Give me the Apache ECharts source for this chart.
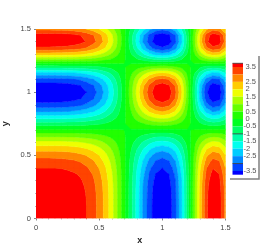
<!DOCTYPE html>
<html><head><meta charset="utf-8">
<style>html,body{margin:0;padding:0;background:#fff}#c{width:277px;height:246px}</style>
<script src="https://cdn.jsdelivr.net/npm/echarts@6/dist/echarts.min.js"></script></head>
<body><div id="c"></div>
<script>
const xValues=[0,.05,.1,.15,.2,.25,.3,.35,.4,.45,.5,.55,.6,.65,.7,.75,.8,.85,.9,.95,1,1.05,1.1,1.15,1.2,1.25,1.3,1.35,1.4,1.45,1.5];
const yValues=xValues.slice();
const zRows=[
[4,4,4,3.99,3.97,3.92,3.84,3.71,3.5,3.22,2.83,2.32,1.7,.96,.12,-.78,-1.7,-2.58,-3.31,-3.81,-4,-3.79,-3.16,-2.11,-.75,.78,2.25,3.41,3.97,3.79,2.83],
[4,4,4,3.99,3.97,3.92,3.84,3.71,3.5,3.22,2.83,2.32,1.7,.96,.12,-.78,-1.7,-2.58,-3.31,-3.81,-4,-3.79,-3.16,-2.11,-.75,.78,2.25,3.41,3.97,3.79,2.83],
[4,4,4,3.99,3.97,3.92,3.84,3.71,3.5,3.22,2.83,2.32,1.7,.96,.12,-.78,-1.7,-2.58,-3.31,-3.81,-4,-3.79,-3.16,-2.11,-.75,.78,2.25,3.41,3.97,3.79,2.83],
[3.99,3.99,3.99,3.98,3.96,3.91,3.83,3.7,3.49,3.21,2.82,2.32,1.7,.96,.12,-.78,-1.7,-2.57,-3.3,-3.8,-3.99,-3.78,-3.15,-2.1,-.75,.78,2.24,3.4,3.96,3.78,2.82],
[3.97,3.97,3.97,3.96,3.94,3.89,3.81,3.68,3.47,3.19,2.81,2.3,1.69,.95,.12,-.77,-1.69,-2.56,-3.28,-3.78,-3.97,-3.76,-3.13,-2.09,-.74,.77,2.23,3.38,3.94,3.76,2.81],
[3.92,3.92,3.92,3.91,3.89,3.85,3.77,3.64,3.43,3.16,2.78,2.28,1.67,.94,.12,-.77,-1.67,-2.53,-3.25,-3.74,-3.92,-3.72,-3.1,-2.07,-.74,.77,2.21,3.35,3.89,3.72,2.78],
[3.84,3.84,3.84,3.83,3.81,3.76,3.69,3.56,3.36,3.09,2.72,2.23,1.63,.92,.12,-.75,-1.63,-2.48,-3.18,-3.66,-3.84,-3.64,-3.03,-2.03,-.72,.75,2.16,3.27,3.81,3.64,2.72],
[3.71,3.71,3.71,3.7,3.68,3.63,3.56,3.44,3.25,2.98,2.62,2.15,1.58,.89,.11,-.72,-1.58,-2.39,-3.07,-3.53,-3.71,-3.51,-2.93,-1.96,-.7,.72,2.09,3.16,3.68,3.51,2.62],
[3.5,3.5,3.5,3.5,3.48,3.43,3.36,3.25,3.07,2.82,2.48,2.03,1.49,.84,.11,-.68,-1.49,-2.26,-2.9,-3.34,-3.5,-3.32,-2.77,-1.85,-.66,.68,1.97,2.99,3.48,3.32,2.48],
[3.22,3.22,3.22,3.21,3.19,3.15,3.09,2.98,2.82,2.59,2.27,1.87,1.37,.77,.1,-.63,-1.37,-2.07,-2.66,-3.06,-3.22,-3.05,-2.54,-1.7,-.6,.63,1.81,2.74,3.19,3.05,2.27],
[2.83,2.83,2.83,2.82,2.81,2.77,2.72,2.62,2.48,2.27,2,1.64,1.2,.68,.08,-.55,-1.2,-1.82,-2.34,-2.69,-2.83,-2.68,-2.23,-1.49,-.53,.55,1.59,2.41,2.81,2.68,2],
[2.32,2.32,2.32,2.32,2.31,2.28,2.23,2.15,2.03,1.87,1.64,1.35,.99,.56,.07,-.45,-.99,-1.5,-1.92,-2.21,-2.32,-2.2,-1.84,-1.22,-.44,.45,1.31,1.98,2.31,2.2,1.64],
[1.7,1.7,1.7,1.7,1.69,1.67,1.63,1.58,1.49,1.37,1.2,.99,.73,.41,.05,-.33,-.73,-1.1,-1.41,-1.62,-1.7,-1.61,-1.35,-.9,-.32,.33,.96,1.45,1.69,1.61,1.2],
[.96,.96,.96,.96,.95,.94,.93,.89,.84,.78,.68,.56,.41,.23,.03,-.19,-.41,-.62,-.8,-.92,-.96,-.91,-.76,-.51,-.18,.19,.54,.82,.96,.91,.68],
[.12,.12,.12,.12,.12,.12,.12,.12,.11,.1,.09,.07,.05,.03,0,-.02,-.05,-.08,-.1,-.12,-.12,-.12,-.1,-.07,-.02,.02,.07,.11,.12,.12,.09],
[-.78,-.78,-.78,-.78,-.77,-.76,-.75,-.72,-.68,-.63,-.55,-.45,-.33,-.19,-.02,.15,.33,.5,.65,.74,.78,.74,.62,.41,.15,-.15,-.44,-.66,-.77,-.74,-.55],
[-1.7,-1.7,-1.7,-1.7,-1.69,-1.67,-1.63,-1.58,-1.49,-1.37,-1.2,-.99,-.73,-.41,-.05,.33,.73,1.1,1.41,1.62,1.7,1.61,1.35,.9,.32,-.33,-.96,-1.45,-1.69,-1.61,-1.2],
[-2.58,-2.58,-2.58,-2.57,-2.56,-2.53,-2.47,-2.39,-2.26,-2.07,-1.82,-1.5,-1.1,-.62,-.08,.5,1.1,1.66,2.13,2.45,2.58,2.44,2.03,1.36,.48,-.5,-1.45,-2.2,-2.56,-2.44,-1.82],
[-3.31,-3.31,-3.31,-3.3,-3.28,-3.25,-3.18,-3.07,-2.9,-2.66,-2.34,-1.92,-1.41,-.8,-.1,.65,1.41,2.13,2.74,3.15,3.31,3.14,2.61,1.74,.62,-.65,-1.86,-2.82,-3.28,-3.14,-2.34],
[-3.81,-3.81,-3.81,-3.8,-3.78,-3.74,-3.66,-3.53,-3.34,-3.06,-2.69,-2.21,-1.62,-.92,-.12,.74,1.62,2.45,3.15,3.63,3.81,3.61,3.01,2.01,.71,-.74,-2.14,-3.25,-3.78,-3.61,-2.69],
[-4,-4,-4,-3.99,-3.97,-3.92,-3.84,-3.71,-3.5,-3.22,-2.83,-2.32,-1.7,-.96,-.12,.78,1.7,2.58,3.31,3.81,4,3.79,3.16,2.11,.75,-.78,-2.25,-3.41,-3.97,-3.79,-2.83],
[-3.79,-3.79,-3.79,-3.78,-3.76,-3.72,-3.64,-3.51,-3.32,-3.05,-2.68,-2.2,-1.61,-.91,-.12,.74,1.61,2.44,3.14,3.61,3.79,3.59,3,2,.71,-.74,-2.13,-3.23,-3.76,-3.59,-2.68],
[-3.16,-3.16,-3.16,-3.15,-3.13,-3.1,-3.03,-2.93,-2.77,-2.54,-2.23,-1.84,-1.35,-.76,-.1,.62,1.35,2.03,2.61,3.01,3.16,3,2.5,1.66,.59,-.62,-1.78,-2.69,-3.13,-3,-2.23],
[-2.11,-2.11,-2.11,-2.1,-2.09,-2.07,-2.03,-1.96,-1.85,-1.7,-1.49,-1.22,-.9,-.51,-.07,.41,.9,1.36,1.74,2.01,2.11,2,1.66,1.11,.4,-.41,-1.19,-1.8,-2.09,-2,-1.49],
[-.75,-.75,-.75,-.75,-.74,-.73,-.72,-.7,-.66,-.6,-.53,-.44,-.32,-.18,-.02,.15,.32,.48,.62,.71,.75,.71,.59,.4,.14,-.15,-.42,-.64,-.74,-.71,-.53],
[.78,.78,.78,.78,.77,.76,.75,.72,.68,.63,.55,.45,.33,.19,.02,-.15,-.33,-.5,-.65,-.74,-.78,-.74,-.62,-.41,-.15,.15,.44,.66,.77,.74,.55],
[2.25,2.25,2.25,2.24,2.23,2.2,2.16,2.08,1.97,1.81,1.59,1.3,.96,.54,.07,-.44,-.96,-1.45,-1.86,-2.14,-2.25,-2.13,-1.78,-1.19,-.42,.44,1.26,1.92,2.23,2.13,1.59],
[3.41,3.41,3.41,3.4,3.38,3.34,3.27,3.16,2.98,2.74,2.41,1.98,1.45,.82,.1,-.66,-1.45,-2.2,-2.82,-3.25,-3.41,-3.23,-2.69,-1.8,-.64,.66,1.92,2.91,3.38,3.23,2.41],
[3.97,3.97,3.97,3.96,3.94,3.89,3.81,3.68,3.47,3.19,2.81,2.3,1.69,.95,.12,-.77,-1.69,-2.56,-3.28,-3.78,-3.97,-3.76,-3.13,-2.09,-.74,.77,2.23,3.38,3.91,3.76,2.81],
[3.79,3.79,3.79,3.78,3.76,3.72,3.64,3.51,3.32,3.05,2.68,2.2,1.61,.91,.12,-.74,-1.61,-2.44,-3.14,-3.61,-3.79,-3.59,-3,-2,-.71,.74,2.13,3.23,3.76,3.59,2.68],
[2.83,2.83,2.83,2.82,2.81,2.77,2.72,2.62,2.48,2.27,2,1.64,1.2,.68,.09,-.55,-1.2,-1.82,-2.34,-2.69,-2.83,-2.68,-2.23,-1.49,-.53,.55,1.59,2.41,2.81,2.68,2]
];
const levels=[3.5,3,2.5,2,1.5,1,.5,0,-.5,-1,-1.5,-2,-2.5,-3,-3.5];
const levelLabels=['3.5','3','2.5','2','1.5','1','0.5','0','-0.5','-1','-1.5','-2','-2.5','-3','-3.5'];
const bandColors=['#ff0000','#ff4400','#ff8800','#ffcc00','#eeff00','#aaff00','#66ff00','#22ff00','#00ff22','#00ff66','#00ffaa','#00ffee','#00ccff','#0088ff','#0044ff','#0000ff'];
const barRange=[-3.75,3.75];
const barDarkLevels=[3.75,-1,-3];
const axisTicks=[0,.5,1,1.5];

const edges=[Infinity].concat(levels,[-Infinity]);
function clip(poly,bound,keepAbove){
  const out=[];
  for(let k=0;k<poly.length;k++){
    const a=poly[k],b=poly[(k+1)%poly.length];
    const ina=keepAbove?a[2]>=bound:a[2]<=bound, inb=keepAbove?b[2]>=bound:b[2]<=bound;
    if(ina)out.push(a);
    if(ina!==inb){const t=(bound-a[2])/(b[2]-a[2]);out.push([a[0]+t*(b[0]-a[0]),a[1]+t*(b[1]-a[1]),bound]);}
  }
  return out;
}
// One mark per contour band: a single path collecting every grid cell's share of that band.
function renderContourBand(params,api){
  const b=api.value(0);
  let d='';
  for(let j=0;j<yValues.length-1;j++)for(let i=0;i<xValues.length-1;i++){
    let p=[[xValues[i],yValues[j],zRows[j][i]],[xValues[i+1],yValues[j],zRows[j][i+1]],
           [xValues[i+1],yValues[j+1],zRows[j+1][i+1]],[xValues[i],yValues[j+1],zRows[j+1][i]]];
    if(isFinite(edges[b]))p=clip(p,edges[b],false);
    if(p.length&&isFinite(edges[b+1]))p=clip(p,edges[b+1],true);
    if(p.length<3)continue;
    p.forEach((q,k)=>{const c=api.coord([q[0],q[1]]);d+=(k?'L':'M')+c[0].toFixed(2)+' '+c[1].toFixed(2);});
    d+='Z';
  }
  return {type:'path',shape:{pathData:d},style:{fill:bandColors[b],stroke:bandColors[b],lineWidth:.4}};
}
const barBands=bandColors.map((c,b)=>[0,1,Math.min(edges[b],barRange[1]),Math.max(edges[b+1],barRange[0]),b]);
function renderBand(params,api){
  const a=api.coord([0,api.value(2)]),b=api.coord([1,api.value(3)]);
  return {type:'rect',shape:{x:a[0],y:a[1],width:b[0]-a[0],height:b[1]-a[1]},style:{fill:bandColors[api.value(4)]}};
}
function renderDark(params,api){
  const a=api.coord([0,api.value(0)]),b=api.coord([1,api.value(0)]);
  return {type:'line',shape:{x1:a[0],y1:a[1],x2:b[0],y2:b[1]},style:{stroke:'#333',lineWidth:.8}};
}
const font='"Liberation Sans",Arial,sans-serif';
function plotAxis(name,extra){
  return Object.assign({type:'value',min:0,max:1.5,interval:.5,name,nameLocation:'middle',
    nameTextStyle:{fontFamily:font,fontSize:9,fontWeight:'bold',color:'#222'},
    axisLine:{show:false},splitLine:{show:false},
    axisTick:{show:true,length:2,lineStyle:{color:'#888',width:1}},
    minorTick:{show:true,splitNumber:5,length:1,lineStyle:{color:'#bbb',width:1}},
    axisLabel:{fontFamily:font,fontSize:7.5,color:'#444',margin:5,hideOverlap:false,showMinLabel:true,showMaxLabel:true,
      customValues:axisTicks,formatter:v=>String(v)}},extra);
}
const chart=echarts.init(document.getElementById('c'),null,{renderer:'canvas'});
const xAxisMain=plotAxis('x',{gridIndex:0,nameGap:6});
xAxisMain.nameTextStyle.padding=[0,0,0,18];
chart.setOption({
  animation:false,backgroundColor:'#fff',
  grid:[{left:36,top:29,width:189.5,height:189.5,outerBoundsMode:'none'},
        {left:232.5,top:63.3,width:10.5,height:111.4,outerBoundsMode:'none'}],
  xAxis:[xAxisMain,
    {type:'value',gridIndex:1,min:0,max:1,show:false}],
  yAxis:[plotAxis('y',{gridIndex:0,nameGap:7}),
    {type:'value',gridIndex:1,min:barRange[0],max:barRange[1],position:'right',
     axisLine:{show:false},axisTick:{show:false},splitLine:{show:false},
     axisLabel:{show:true,fontFamily:font,fontSize:7.5,lineHeight:5,color:'#555',margin:0.5,align:'left',hideOverlap:false,
       showMinLabel:true,showMaxLabel:true,customValues:levels,
       formatter:v=>{const s=levelLabels[levels.indexOf(v)];return s&&s[0]==='-'?s:'\u00a0'+s;}}}],
  series:[
    {type:'custom',xAxisIndex:0,yAxisIndex:0,data:bandColors.map((c,b)=>[b]),renderItem:renderContourBand,
     encode:{},clip:true,silent:true},
    {type:'custom',xAxisIndex:1,yAxisIndex:1,data:barBands,renderItem:renderBand,encode:{x:[0,1],y:[2,3]},silent:true},
    {type:'custom',xAxisIndex:1,yAxisIndex:1,data:barDarkLevels.map(v=>[v]),renderItem:renderDark,encode:{y:0},silent:true}
  ],
  graphic:[{type:'polyline',shape:{points:[[230,179],[259,179],[259,56]]},style:{stroke:'#808080',lineWidth:1.5,fill:null},silent:true}]
});
</script></body></html>
